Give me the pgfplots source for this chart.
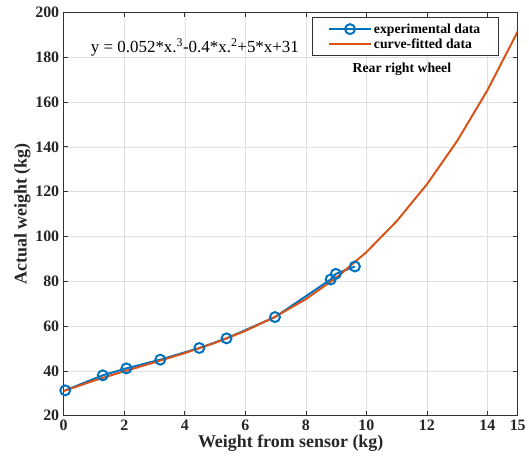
\documentclass[border=0pt]{standalone}
\usepackage{fontspec}
\setmainfont{Liberation Serif}
\usepackage{pgfplots}
\pgfplotsset{compat=1.18}
\definecolor{mblue}{RGB}{0,114,189}
\definecolor{morange}{RGB}{217,83,25}
\begin{document}
\begin{tikzpicture}
\begin{axis}[
  scale only axis,
  width=456pt, height=405pt,
  xmin=0, xmax=15, ymin=20, ymax=200,
  xtick={0,2,4,6,8,10,12,14,15},
  ytick={20,40,...,200},
  grid=major,
  grid style={black!12, line width=0.5pt},
  axis line style={black!80, line width=0.7pt},
  tick align=inside,
  tick pos=both,
  major tick length=4.5pt,
  tick style={black!80, line width=0.7pt},
  /pgf/number format/assume math mode=true,
  ticklabel style={font=\fontsize{16}{18}\selectfont\bfseries, text=black!85},
  xticklabel style={yshift=-1pt},
  yticklabel style={xshift=-1pt},
  xlabel={\textbf{Weight from sensor (kg)}},
  ylabel={\textbf{Actual weight (kg)}},
  label style={font=\fontsize{18}{20}\selectfont, text=black!85},
  xlabel style={yshift=3pt},
  ylabel style={yshift=-2pt},
  legend cell align=left,
  legend style={at={(0.958,0.988)}, anchor=north east, draw=black!80, line width=0.7pt,
     font=\fontsize{13.8}{15}\selectfont\bfseries, inner xsep=16pt, inner ysep=4pt,
     row sep=0pt},
  legend image code/.code={
    \draw[#1, mark=none] (0pt,0pt) -- (42pt,0pt);
    \draw[#1, only marks] plot coordinates {(21pt,0pt)};
  },
]
\addplot[color=mblue, line width=2pt, mark=o, mark size=5pt, mark options={line width=2pt}]
  coordinates {
  (0.05,31.3) (1.29,38.0) (2.07,41.1) (3.19,45.0) (4.48,50.2) (5.38,54.5)
  (6.98,64.0) (8.82,80.8) (8.99,83.3) (9.62,86.6)
  };
\addlegendentry{experimental data}
\addplot[color=morange, line width=2pt, mark=none]
  coordinates {
  (0,31) (1,35.652) (2,39.816) (3,43.804) (4,47.928) (5,52.5) (6,57.832)
  (7,64.236) (8,72.024) (9,81.508) (10,93) (11,106.812) (12,123.256)
  (13,142.644) (14,165.288) (15,191.5)
  };
\addlegendentry{curve-fitted data}
\node[font=\fontsize{17}{19}\selectfont] at (rel axis cs:0.289,0.914)
  {y = 0.052*x.\textsuperscript{3}-0.4*x.\textsuperscript{2}+5*x+31};
\node[font=\fontsize{13.8}{15}\selectfont\bfseries] at (rel axis cs:0.745,0.859) {Rear right wheel};
\end{axis}
\path ([shift={(-64pt,-53pt)}]current axis.south west) rectangle ([shift={(8.5pt,12.5pt)}]current axis.north east);
\end{tikzpicture}
\end{document}
